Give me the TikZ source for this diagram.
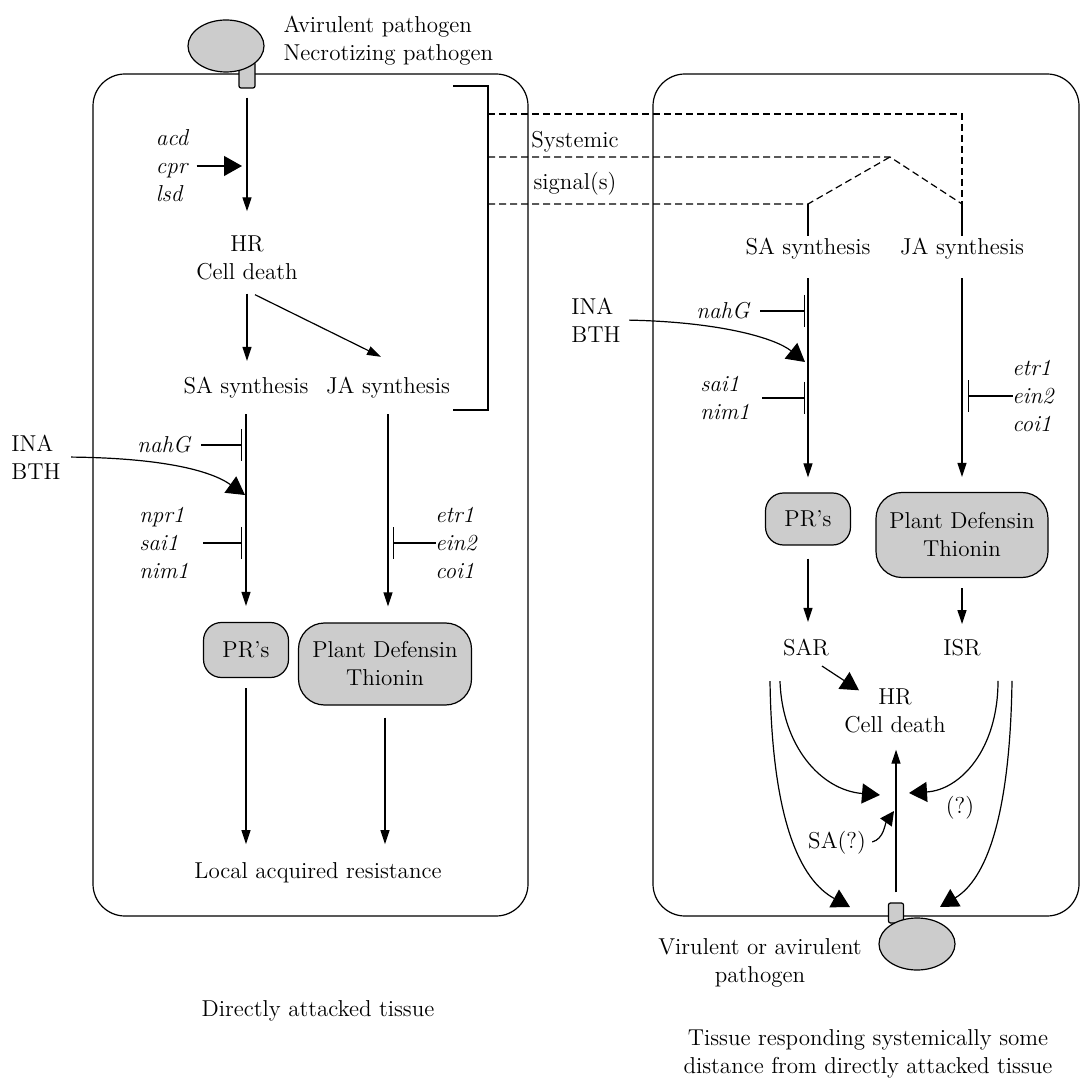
\documentclass[tikz,border=0pt]{standalone}
\usetikzlibrary{arrows.meta,shapes.geometric}
\newcommand\diagfont{\fontsize{11.5}{14}\selectfont}

\begin{document}
\begin{tikzpicture}[x=0.5pt, y=-0.5pt,
  every node/.style={font=\diagfont},
  txt/.style={inner sep=1pt, align=center},
  gene/.style={inner sep=1pt, align=left, font=\diagfont\itshape},
  tissue/.style={draw, rounded corners=16pt},
  product/.style={draw, fill=gray!40, align=center, inner sep=2pt},
  pathogen/.style={draw, fill=gray!40, ellipse, minimum width=38pt, minimum height=26pt, inner sep=0pt},
  stembox/.style={draw, fill=gray!40, rounded corners=1pt, minimum width=8pt, minimum height=13pt, inner sep=0pt},
  arr/.style={-{Triangle[length=7pt,width=4.5pt]}},
  bigarr/.style={-{Triangle[length=9pt,width=10pt]}},
  midarr/.style={-{Triangle[length=7pt,width=7pt]}},
  inhib/.style={-{Bar[width=16pt]}},
  sysline/.style={dash pattern=on 3.5pt off 2pt},
  line width=0.6pt
]
\useasboundingbox (0,0) rectangle (1081,1079);

% Tissues
\draw[tissue] (93,74) rectangle (528,916);
\draw[tissue] (653,74) rectangle (1079,916);

% Attacking pathogen
\node[stembox] (stemL) at (247,75) {};
\node[pathogen] (pathL) at (226,46) {};
\node[txt, align=left, anchor=west] (avrL) at (281,41) {Avirulent pathogen\\Necrotizing pathogen};

% Local pathway
\node[gene] (acdL) at (172,166) {acd\\cpr\\lsd};
\node[txt] (hrL) at (247,258) {HR\\Cell death};
\node[txt] (saL) at (246,388) {SA synthesis};
\node[txt] (jaL) at (388,388) {JA synthesis};
\node[gene] (nahgL) at (164,445) {nahG};
\node[txt, align=left] (inaL) at (36,457) {INA\\BTH};
\node[gene] (nprL) at (164,543) {npr1\\sai1\\nim1};
\node[gene] (etrL) at (456,543) {etr1\\ein2\\coi1};
\node[product, rounded corners=9pt, minimum width=42.5pt, minimum height=27.5pt] (prL) at (246,650) {PR's};
\node[product, rounded corners=13pt, minimum width=86.5pt, minimum height=41pt] (pdL) at (385,664) {Plant Defensin\\Thionin};
\node[txt] (larL) at (318,873) {Local acquired resistance};
\node[txt] (capL) at (318,1011) {Directly attacked tissue};

\coordinate (cprT) at (242,166);
\coordinate (inaLT) at (245,495);

\draw[arr, shorten <=4.5pt, shorten >=11pt] (stemL.south) -- (hrL.north);
\draw[bigarr] ([xshift=3pt]acdL.east) -- (cprT);
\draw[arr, shorten <=5.5pt, shorten >=7pt] (hrL.south) -- (hrL.south |- saL.north);
\draw[arr] ([xshift=4pt,yshift=-6pt]hrL.south) -- ([xshift=-3.5pt,yshift=9pt]jaL.north);
\draw[arr, shorten <=6.5pt, shorten >=8pt] (saL.south) -- (saL.south |- prL.north);
\draw[arr, shorten <=6.5pt, shorten >=8pt] (jaL.south) -- (jaL.south |- pdL.north);
\draw[inhib, shorten <=4pt, shorten >=2pt] (nahgL.east) -- (nahgL.east -| saL.south);
\draw[inhib, shorten <=6pt, shorten >=2pt] (nprL.east) -- (nprL.east -| saL.south);
\draw[inhib, shorten <=-1.5pt, shorten >=2.5pt] (etrL.west) -- (etrL.west -| jaL.south);
\draw[bigarr, shorten <=4pt] (inaL.east) .. controls (160,458) and (210,470) .. (inaLT);
\draw[arr, shorten <=5pt, shorten >=8pt] (prL.south) -- (prL.south |- larL.north);
\draw[arr, shorten <=6pt, shorten >=8pt] (pdL.south) -- (pdL.south |- larL.north);

% Systemic signal(s)
\node[txt] (sysT) at (575,142) {Systemic};
\node[txt] (sigT) at (575,184) {signal(s)};
\coordinate (peak) at (890,157);
\coordinate (sigSA) at (808,204);
\coordinate (sigJA) at (962,204);
\draw (453,86) -- (488,86) -- (488,410) -- (453,410);
\draw[sysline] (488,114) -- (962,114) -- (sigJA);
\draw[sysline] (488,157) -- (peak) -- (sigJA);
\draw[sysline] (488,204) -- (sigSA) -- (peak);

% Systemic pathway
\node[txt] (saR) at (808,249) {SA synthesis};
\node[txt] (jaR) at (962,249) {JA synthesis};
\node[gene] (nahgR) at (723,311) {nahG};
\node[txt, align=left] (inaR) at (596,320) {INA\\BTH};
\node[gene] (saiR) at (725,398) {sai1\\nim1};
\node[gene] (etrR) at (1033,396) {etr1\\ein2\\coi1};
\node[product, rounded corners=9pt, minimum width=42.5pt, minimum height=26pt] (prR) at (808,519) {PR's};
\node[product, rounded corners=13pt, minimum width=86pt, minimum height=42.5pt] (pdR) at (962,535) {Plant Defensin\\Thionin};
\node[txt] (sarR) at (806,648) {SAR};
\node[txt] (isrR) at (962,648) {ISR};
\node[txt] (hrR) at (895,711) {HR\\Cell death};
\node[txt] (qR) at (960,808) {(?)};
\node[txt] (saqR) at (837,843) {SA(?)};
\node[txt] (virR) at (760,963) {Virulent or avirulent\\pathogen};
\node[txt] (capR) at (868,1054) {Tissue responding systemically some\\distance from directly attacked tissue};

\coordinate (inaRT) at (805,362);
\coordinate (convL) at (880,795);
\coordinate (convR) at (909,793);
\coordinate (botL) at (850,907);
\coordinate (botR) at (940,907);
\coordinate (saqT) at (894,811);

\draw (sigSA) -- (saR.north);
\draw (sigJA) -- (jaR.north);
\draw[arr, shorten <=8pt, shorten >=7.5pt] (saR.south) -- (saR.south |- prR.north);
\draw[arr, shorten <=8pt, shorten >=7.5pt] (jaR.south) -- (jaR.south |- pdR.north);
\draw[inhib, shorten <=4pt, shorten >=1.5pt] (nahgR.east) -- (nahgR.east -| saR.south);
\draw[inhib, shorten <=5pt, shorten >=1.5pt] (saiR.east) -- (saiR.east -| saR.south);
\draw[inhib, shorten <=-1.5pt, shorten >=3pt] (etrR.west) -- (etrR.west -| jaR.south);
\draw[bigarr, shorten <=3pt] (inaR.east) .. controls (720,322) and (775,338) .. (inaRT);
\draw[arr, shorten <=6.5pt, shorten >=7.5pt] (prR.south) -- (prR.south |- sarR.north);
\draw[arr, shorten <=5pt, shorten >=6.5pt] (pdR.south) -- (pdR.south |- isrR.north);
\draw[bigarr] ([xshift=8pt,yshift=-3.5pt]sarR.south) -- ([xshift=-18pt,yshift=-2pt]hrR.north);
\draw[bigarr] ([xshift=-13pt,yshift=-11pt]sarR.south) .. controls (782,745) and (820,790) .. (convL);
\draw[bigarr] ([xshift=-18pt,yshift=-11pt]sarR.south) .. controls (772,820) and (800,880) .. (botL);
\draw[bigarr] ([xshift=18pt,yshift=-11pt]isrR.south) .. controls (998,750) and (960,790) .. (convR);
\draw[bigarr] ([xshift=25pt,yshift=-11pt]isrR.south) .. controls (1010,820) and (985,880) .. (botR);
\draw[midarr, shorten <=2pt] (saqR.east) to[out=15, in=-125] (saqT);

% Responding pathogen
\node[stembox, minimum width=7.5pt, minimum height=10pt] (stemR) at (896,913) {};
\node[pathogen] (pathR) at (917,944) {};
\draw[arr, shorten <=5pt, shorten >=7pt] (stemR.north) -- (stemR.north |- hrR.south);
\end{tikzpicture}
\end{document}
